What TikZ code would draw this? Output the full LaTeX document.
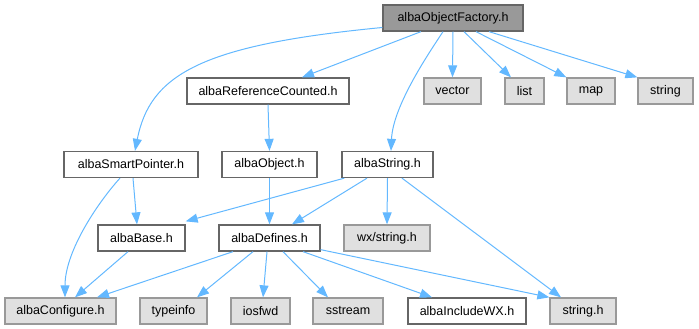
\documentclass[tikz,border=0pt]{standalone}
\usepackage{fontspec}
\setmainfont{Liberation Sans}
\usetikzlibrary{arrows.meta}
\definecolor{edgeblue}{HTML}{63B8FF}
\definecolor{sysfill}{HTML}{E0E0E0}
\definecolor{sysline}{HTML}{999999}
\definecolor{hdrline}{HTML}{666666}
\definecolor{rootfill}{HTML}{999999}
\begin{document}
\begin{tikzpicture}[x=1pt,y=-1pt,
  box/.style={rectangle, inner sep=0pt, minimum height=26pt, line width=1.3pt,
    font=\fontsize{12.5}{14}\selectfont, text=black},
  hdr/.style={box, draw=hdrline, fill=white},
  sys/.style={box, draw=sysline, fill=sysfill},
  rootbox/.style={box, draw=hdrline, fill=rootfill},
  dep/.style={draw=edgeblue, line width=1pt,
    -{Triangle[length=12pt,width=9pt]}}]
\useasboundingbox (0,0) rectangle (699,329);

% top level
\node[rootbox, minimum width=140pt] (fac) at (453,18) {albaObjectFactory.h};

% second row
\node[hdr, minimum width=162pt] (ref) at (268,91) {albaReferenceCounted.h};
\node[sys, minimum width=57pt] (vec) at (452.5,91) {vector};
\node[sys, minimum width=39pt] (lst) at (524.5,91) {list};
\node[sys, minimum width=48pt] (map) at (591,91) {map};
\node[sys, minimum width=55pt] (stl) at (665.5,91) {string};

% third row
\node[hdr, minimum width=134pt] (smp) at (131,164.5) {albaSmartPointer.h};
\node[hdr, minimum width=95pt] (obj) at (269.5,164.5) {albaObject.h};
\node[hdr, minimum width=91pt] (str) at (387.5,164.5) {albaString.h};

% fourth row
\node[hdr, minimum width=87pt] (bas) at (141.5,238) {albaBase.h};
\node[hdr, minimum width=101pt] (def) at (269.5,238) {albaDefines.h};
\node[sys, minimum width=86pt] (wxs) at (387,238) {wx/string.h};

% bottom row
\node[sys, minimum width=111pt] (cfg) at (60.5,311) {albaConfigure.h};
\node[sys, minimum width=67pt] (tpi) at (173.5,311) {typeinfo};
\node[sys, minimum width=59pt] (iof) at (260.5,311) {iosfwd};
\node[sys, minimum width=70pt] (sst) at (348,311) {sstream};
\node[hdr, minimum width=118pt] (iwx) at (467,311) {albaIncludeWX.h};
\node[sys, minimum width=66pt] (sth) at (583,311) {string.h};

% includes of albaObjectFactory.h
\draw[dep] ([yshift=-9.5pt]fac.west) .. controls (200,45) and (150,75) .. ([xshift=4pt]smp.north);
\draw[dep] ([xshift=-32pt]fac.south) -- ([xshift=34pt]ref.north);
\draw[dep] ([xshift=-10pt]fac.south) .. controls (431,50) and (393,105) .. ([xshift=3.5pt]str.north);
\draw[dep] (fac.south) -- (vec.north);
\draw[dep] ([xshift=11pt]fac.south) -- ([xshift=-13.5pt]lst.north);
\draw[dep] ([xshift=23pt]fac.south) -- (map.north west);
\draw[dep] ([xshift=36pt]fac.south) -- (stl.north west);

% includes of the second and third rows
\draw[dep] (ref.south) -- (obj.north);
\draw[dep] ([xshift=2pt]smp.south) -- ([xshift=-4.5pt]bas.north);
\draw[dep] ([xshift=-11pt]smp.south) .. controls (100,200) and (65,250) .. ([xshift=4.5pt]cfg.north);
\draw[dep] (obj.south) -- (def.north);
\draw[dep] ([xshift=3pt]str.south west) -- ([yshift=3pt]bas.north east);
\draw[dep] ([xshift=-20.5pt]str.south) -- ([xshift=22.5pt]def.north);
\draw[dep] (str.south) -- (wxs.north);
\draw[dep] ([xshift=14.5pt]str.south) -- ([xshift=-22pt]sth.north);

% includes of albaBase.h and albaDefines.h
\draw[dep] ([xshift=-13.5pt]bas.south) -- ([xshift=14.5pt]cfg.north);
\draw[dep] ([xshift=-36.5pt]def.south) -- ([xshift=36.5pt]cfg.north);
\draw[dep] ([xshift=-16.5pt]def.south) -- ([xshift=23.5pt]tpi.north);
\draw[dep] ([xshift=-2.5pt]def.south) -- ([xshift=2.5pt]iof.north);
\draw[dep] ([xshift=13.5pt]def.south) -- ([xshift=-20pt]sst.north);
\draw[dep] ([xshift=33.5pt]def.south) -- ([xshift=-35pt]iwx.north);
\draw[dep] ([yshift=2pt]def.south east) -- (sth.north west);
\end{tikzpicture}
\end{document}
